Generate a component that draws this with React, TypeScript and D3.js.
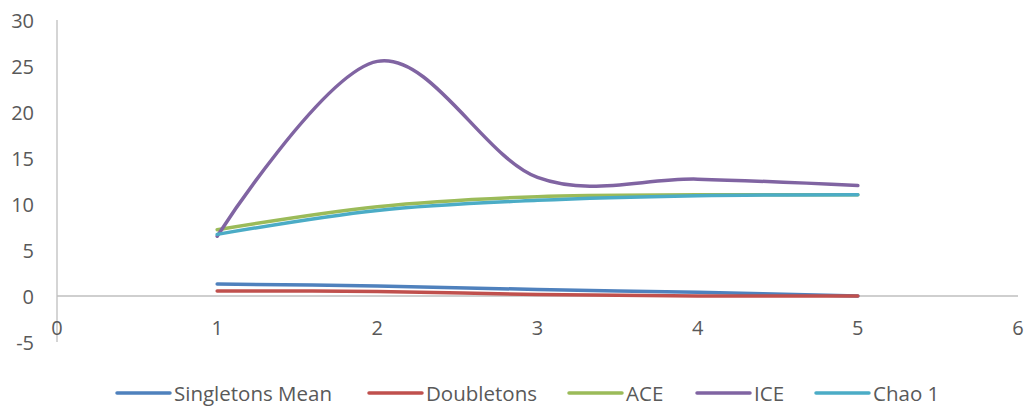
import React from "react";
import * as d3 from "d3";

const xValues = [1, 2, 3, 4, 5];
const seriesNames = ["Singletons Mean", "Doubletons", "ACE", "ICE", "Chao 1"];
const singletons = [1.3, 1.1, 0.7, 0.4, 0.0];
const doubletons = [0.55, 0.5, 0.15, 0.0, 0.0];
const ace = [7.2, 9.7, 10.8, 11.0, 11.0];
const ice = [6.5, 25.5, 12.9, 12.7, 12.0];
const chao1 = [6.7, 9.3, 10.4, 10.9, 11.0];
const colors = ["#4F81BD", "#C0504D", "#9BBB59", "#8064A2", "#4BACC6"];
const yTicks = [-5, 0, 5, 10, 15, 20, 25, 30];
const xTicks = [0, 1, 2, 3, 4, 5, 6];

const W = 1027;
const H = 407;

export default function App() {
  const x = d3.scaleLinear().domain([0, 6]).range([57, 1018]);
  const y = d3.scaleLinear().domain([-5, 30]).range([342, 20]);
  const data = [singletons, doubletons, ace, ice, chao1];
  const line = d3
    .line<number>()
    .x((_, i) => x(xValues[i]))
    .y((d) => y(d))
    .curve(d3.curveCardinal.tension(0));
  const font = "'Open Sans', sans-serif";
  const legendX = [117, 369, 569, 697, 816];
  const legendY = 393;
  return (
    <svg
      width={W}
      height={H}
      style={{ position: "absolute", left: 0, top: 0, background: "#fff" }}
    >
      <line x1={x(0)} x2={x(0)} y1={y(30)} y2={y(-5)} stroke="#BFBFBF" strokeWidth={1.3} />
      <line x1={x(0)} x2={x(6)} y1={y(0)} y2={y(0)} stroke="#BFBFBF" strokeWidth={1.3} />
      {yTicks.map((t) => (
        <text
          key={"y" + t}
          x={34}
          y={y(t)}
          textAnchor="end"
          dominantBaseline="central"
          fontFamily={font}
          fontSize={20}
          fill="#595959"
        >
          {t}
        </text>
      ))}
      {xTicks.map((t) => (
        <text
          key={"x" + t}
          x={x(t)}
          y={327}
          textAnchor="middle"
          dominantBaseline="central"
          fontFamily={font}
          fontSize={20}
          fill="#595959"
        >
          {t}
        </text>
      ))}
      {data.map((d, i) => (
        <path
          key={"s" + i}
          d={line(d) || ""}
          fill="none"
          stroke={colors[i]}
          strokeWidth={3.5}
          strokeLinecap="round"
        />
      ))}
      {seriesNames.map((n, i) => (
        <g key={"l" + i}>
          <line
            x1={legendX[i]}
            x2={legendX[i] + 53}
            y1={legendY}
            y2={legendY}
            stroke={colors[i]}
            strokeWidth={3.5}
            strokeLinecap="round"
          />
          <text
            x={legendX[i] + 57}
            y={legendY}
            dominantBaseline="central"
            fontFamily={font}
            fontSize={20.5}
            fill="#595959"
          >
            {n}
          </text>
        </g>
      ))}
    </svg>
  );
}
